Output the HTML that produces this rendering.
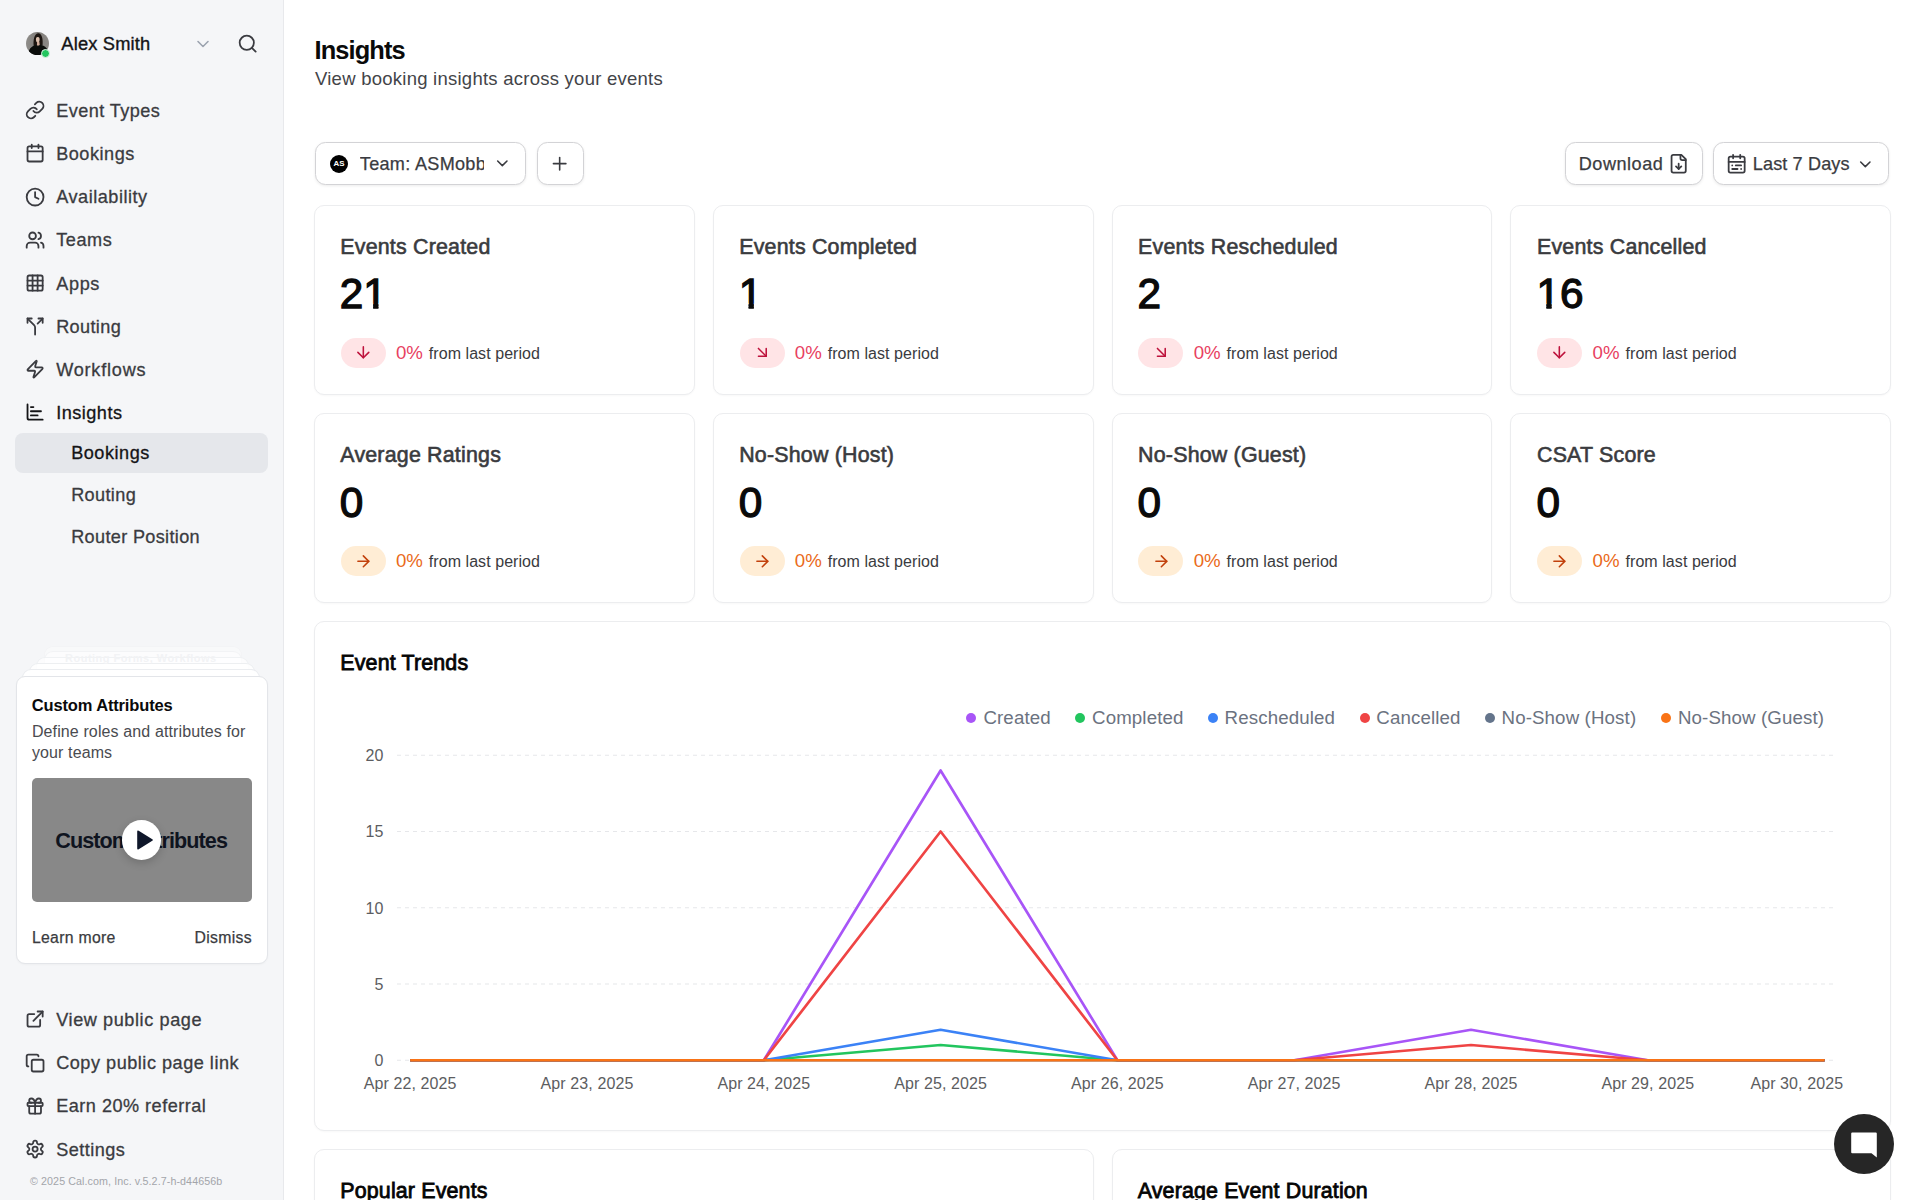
<!DOCTYPE html>
<html lang="en">
<head>
<meta charset="utf-8">
<title>Insights | Cal.com</title>
<style>
*{box-sizing:border-box;margin:0;padding:0}
html,body{width:1920px;height:1200px;overflow:hidden;background:#fff}
body{font-family:"Liberation Sans",sans-serif;color:#3a3b40;position:relative}
svg{display:block}
.abs{position:absolute;white-space:nowrap}
.ico{position:absolute;fill:none;stroke:#3a3b40;stroke-width:2;stroke-linecap:round;stroke-linejoin:round}
#side{position:absolute;left:0;top:0;width:284px;height:1200px;background:#f5f6f8;border-right:1px solid #e8e9ec}
.nav{position:absolute;font-size:18.1px;letter-spacing:.36px;color:#3a3b40;white-space:nowrap;-webkit-text-stroke:.3px #3a3b40}
.nav.on{color:#141416;-webkit-text-stroke:.3px #141416}
#selbg{position:absolute;left:15px;top:433px;width:253px;height:40px;border-radius:8px;background:#e5e7eb}
.card{position:absolute;background:#fff;border:1px solid #ecedef;border-radius:10px;box-shadow:0 1px 2px rgba(0,0,0,.03)}
.ct{position:absolute;font-size:21.4px;line-height:28px;color:#3a3b40;white-space:nowrap;-webkit-text-stroke:.6px #3a3b3e;letter-spacing:.2px}
.cv{position:absolute;font-size:42.3px;line-height:52px;font-weight:400;color:#0a0a0a;white-space:nowrap;-webkit-text-stroke:1.3px #0a0a0a}
.badge{position:absolute;width:45px;height:30.2px;border-radius:15.1px}
.badge svg{position:absolute;left:13.2px;top:5.6px;width:18.67px;height:18.67px;fill:none;stroke-width:2;stroke-linecap:round;stroke-linejoin:round}
.badge.red{background:#ffe4e6}.badge.red svg{stroke:#be123c}
.badge.org{background:#ffedd5}.badge.org svg{stroke:#c2410c}
.pct{position:absolute;font-size:18.67px;line-height:26px;white-space:nowrap}
.pct.red{color:#e8415f}.pct.org{color:#ea6a1a}
.flp{position:absolute;font-size:16px;line-height:26px;color:#3a3b40;white-space:nowrap;letter-spacing:.06px}
.btn{position:absolute;top:142.4px;height:42.6px;background:#fff;border:1.2px solid #d3d3d6;border-radius:10.5px;box-shadow:0 1px 3px rgba(0,0,0,.08)}
.btxt{font-size:18.1px;color:#3a3b40;letter-spacing:.3px;-webkit-text-stroke:.25px #3a3b40}
</style>
</head>
<body>
<!-- ============ SIDEBAR ============ -->
<div id="side">
<svg class="abs" style="left:26.3px;top:32.1px;width:23px;height:23px" viewBox="0 0 24 24">
<defs><clipPath id="avc"><circle cx="12" cy="12" r="12"/></clipPath>
<linearGradient id="avbg" x1="0" x2="1" y1="0" y2="0"><stop offset="0" stop-color="#8f8d8a"/><stop offset=".5" stop-color="#807d7a"/><stop offset="1" stop-color="#8c8986"/></linearGradient></defs>
<g clip-path="url(#avc)"><rect width="24" height="24" fill="url(#avbg)"/>
<path d="M8.100 14.600C7.300 9.500 8.600 1.500 12.600 1.300c3.900-.2 5.400 6.200 4.700 12.600z" fill="#1c1511"/>
<ellipse cx="12.300" cy="7.900" rx="1.900" ry="3.200" fill="#dcc0ae"/>
<path d="M11.600 10.200h2.300l.5 4h-3z" fill="#d2ad9b"/>
<path d="M10.300 5.800C10.800 3.500 14 3.500 14.500 6.100 13.400 4.900 11.300 4.800 10.300 5.800z" fill="#1c1511"/>
<path d="M2.200 24C2.600 18.200 5.200 14.800 10.600 13.600l1.900 1.200 2.300-1.400c4.200.6 6.800 2.800 8.200 6.200L24 24z" fill="#0b0d0b"/></g></svg>
<div class="abs" style="left:41.3px;top:49.4px;width:9px;height:9px;border-radius:50%;background:#22c55e;border:1px solid #dff5e7"></div>
<div class="abs" style="left:61.3px;top:31.8px;line-height:24px;font-size:18.3px;color:#141416;letter-spacing:.18px;-webkit-text-stroke:.35px #141416">Alex Smith</div>
<svg class="ico" viewBox="0 0 24 24" style="left:193.2px;top:33.8px;width:20px;height:20px;stroke:#9ca3af;stroke-width:1.9;"><path d="m6 9 6 6 6-6"/></svg>
<svg class="ico" viewBox="0 0 24 24" style="left:236.64px;top:32.94px;width:21.33px;height:21.33px;stroke:#3a3b40;stroke-width:2;"><circle cx="11" cy="11" r="8"/><path d="m21 21-4.3-4.3"/></svg>
<svg class="ico" viewBox="0 0 24 24" style="left:25.3px;top:100.3px;width:20.2px;height:20.2px;stroke-width:2.15;"><path d="M10 13a5 5 0 0 0 7.54.54l3-3a5 5 0 0 0-7.07-7.07l-1.72 1.71"/><path d="M14 11a5 5 0 0 0-7.54-.54l-3 3a5 5 0 0 0 7.07 7.07l1.71-1.71"/></svg>
<div class="nav" style="left:56.2px;top:98.9px;line-height:24px;letter-spacing:0.43px;">Event Types</div>
<svg class="ico" viewBox="0 0 24 24" style="left:25.3px;top:143.45px;width:20.2px;height:20.2px;stroke-width:2.15;"><path d="M8 2v4"/><path d="M16 2v4"/><rect width="18" height="18" x="3" y="4" rx="2"/><path d="M3 10h18"/></svg>
<div class="nav" style="left:56.2px;top:142.05px;line-height:24px;letter-spacing:0.52px;">Bookings</div>
<svg class="ico" viewBox="0 0 24 24" style="left:25.3px;top:186.6px;width:20.2px;height:20.2px;stroke-width:2.15;"><circle cx="12" cy="12" r="10"/><polyline points="12 6 12 12 16 14"/></svg>
<div class="nav" style="left:56.2px;top:185.2px;line-height:24px;letter-spacing:0.53px;">Availability</div>
<svg class="ico" viewBox="0 0 24 24" style="left:25.3px;top:229.75px;width:20.2px;height:20.2px;stroke-width:2.15;"><path d="M16 21v-2a4 4 0 0 0-4-4H6a4 4 0 0 0-4 4v2"/><circle cx="9" cy="7" r="4"/><path d="M22 21v-2a4 4 0 0 0-3-3.87"/><path d="M16 3.13a4 4 0 0 1 0 7.75"/></svg>
<div class="nav" style="left:56.2px;top:228.35px;line-height:24px;letter-spacing:0.56px;">Teams</div>
<svg class="ico" viewBox="0 0 24 24" style="left:25.3px;top:272.9px;width:20.2px;height:20.2px;stroke-width:2.15;"><rect width="18" height="18" x="3" y="3" rx="2"/><path d="M3 9h18"/><path d="M3 15h18"/><path d="M9 3v18"/><path d="M15 3v18"/></svg>
<div class="nav" style="left:56.2px;top:271.5px;line-height:24px;letter-spacing:0.66px;">Apps</div>
<svg class="ico" viewBox="0 0 24 24" style="left:25.3px;top:316.05px;width:20.2px;height:20.2px;stroke-width:2.15;"><path d="M16 3h5v5"/><path d="M8 3H3v5"/><path d="M12 22v-8.3a4 4 0 0 0-1.172-2.872L3 3"/><path d="m15 9 6-6"/></svg>
<div class="nav" style="left:56.2px;top:314.65px;line-height:24px;letter-spacing:0.36px;">Routing</div>
<svg class="ico" viewBox="0 0 24 24" style="left:25.3px;top:359.2px;width:20.2px;height:20.2px;stroke-width:2.15;"><path d="M4 14a1 1 0 0 1-.78-1.63l9.9-10.2a.5.5 0 0 1 .86.46l-1.92 6.02A1 1 0 0 0 13 10h7a1 1 0 0 1 .78 1.63l-9.9 10.2a.5.5 0 0 1-.86-.46l1.92-6.02A1 1 0 0 0 11 14z"/></svg>
<div class="nav" style="left:56.2px;top:357.8px;line-height:24px;letter-spacing:0.78px;">Workflows</div>
<svg class="ico" viewBox="0 0 24 24" style="left:25.3px;top:402.35px;width:20.2px;height:20.2px;stroke:#141416;stroke-width:2.15;"><path d="M3 3v16a2 2 0 0 0 2 2h16"/><path d="M7 16h8"/><path d="M7 11h12"/><path d="M7 6h3"/></svg>
<div class="nav on" style="left:56.2px;top:400.95px;line-height:24px;letter-spacing:0.49px;">Insights</div>
<div id="selbg"></div>
<div class="nav sub on" style="left:71.2px;top:441.3px;line-height:24px;letter-spacing:0.52px;">Bookings</div>
<div class="nav sub" style="left:71.2px;top:483.2px;line-height:24px;letter-spacing:0.36px;">Routing</div>
<div class="nav sub" style="left:71.2px;top:525.2px;line-height:24px;letter-spacing:0.34px;">Router Position</div>
<svg class="ico" viewBox="0 0 24 24" style="left:25.3px;top:1009.4px;width:20.2px;height:20.2px;stroke-width:2.15;"><path d="M15 3h6v6"/><path d="M10 14 21 3"/><path d="M18 13v6a2 2 0 0 1-2 2H5a2 2 0 0 1-2-2V8a2 2 0 0 1 2-2h6"/></svg>
<div class="nav" style="left:56.2px;top:1008px;line-height:24px;letter-spacing:0.59px;">View public page</div>
<svg class="ico" viewBox="0 0 24 24" style="left:25.3px;top:1052.6px;width:20.2px;height:20.2px;stroke-width:2.15;"><rect width="14" height="14" x="8" y="8" rx="2" ry="2"/><path d="M4 16c-1.1 0-2-.9-2-2V4c0-1.1.9-2 2-2h10c1.1 0 2 .9 2 2"/></svg>
<div class="nav" style="left:56.2px;top:1051.2px;line-height:24px;letter-spacing:0.52px;">Copy public page link</div>
<svg class="ico" viewBox="0 0 24 24" style="left:25.3px;top:1095.7px;width:20.2px;height:20.2px;stroke-width:2.15;"><rect x="3" y="8" width="18" height="4" rx="1"/><path d="M12 8v13"/><path d="M19 12v7a2 2 0 0 1-2 2H7a2 2 0 0 1-2-2v-7"/><path d="M7.5 8a2.5 2.5 0 0 1 0-5A4.8 8 0 0 1 12 8a4.8 8 0 0 1 4.5-5 2.5 2.5 0 0 1 0 5"/></svg>
<div class="nav" style="left:56.2px;top:1094.3px;line-height:24px;letter-spacing:0.49px;">Earn 20% referral</div>
<svg class="ico" viewBox="0 0 24 24" style="left:25.3px;top:1138.9px;width:20.2px;height:20.2px;stroke-width:2.15;"><path d="M12.22 2h-.44a2 2 0 0 0-2 2v.18a2 2 0 0 1-1 1.73l-.43.25a2 2 0 0 1-2 0l-.15-.08a2 2 0 0 0-2.73.73l-.22.38a2 2 0 0 0 .73 2.73l.15.1a2 2 0 0 1 1 1.72v.51a2 2 0 0 1-1 1.74l-.15.09a2 2 0 0 0-.73 2.73l.22.38a2 2 0 0 0 2.73.73l.15-.08a2 2 0 0 1 2 0l.43.25a2 2 0 0 1 1 1.73V20a2 2 0 0 0 2 2h.44a2 2 0 0 0 2-2v-.18a2 2 0 0 1 1-1.73l.43-.25a2 2 0 0 1 2 0l.15.08a2 2 0 0 0 2.73-.73l.22-.39a2 2 0 0 0-.73-2.73l-.15-.08a2 2 0 0 1-1-1.74v-.5a2 2 0 0 1 1-1.74l.15-.09a2 2 0 0 0 .73-2.73l-.22-.38a2 2 0 0 0-2.73-.73l-.15.08a2 2 0 0 1-2 0l-.43-.25a2 2 0 0 1-1-1.73V4a2 2 0 0 0-2-2z"/><circle cx="12" cy="12" r="3"/></svg>
<div class="nav" style="left:56.2px;top:1137.5px;line-height:24px;letter-spacing:0.47px;">Settings</div>
<div class="abs" style="left:30px;top:1174.2px;line-height:14px;font-size:10.7px;color:#a3a5aa;letter-spacing:.09px">© 2025 Cal.com, Inc. v.5.2.7-h-d44656b</div>
<div class="abs" style="left:43.5px;top:645.8px;width:198.4px;height:40px;border-radius:9px;background:rgba(255,255,255,0.35);border:1px solid rgba(229,231,235,0.28)"></div>
<div class="abs" style="left:43.5px;top:651px;width:198.4px;height:40px;border-radius:9px;background:rgba(255,255,255,0.55);border:1px solid rgba(229,231,235,0.44)"></div>
<div class="abs" style="left:35.5px;top:657.2px;width:213.5px;height:40px;border-radius:9px;background:rgba(255,255,255,0.7);border:1px solid rgba(229,231,235,0.56)"></div>
<div class="abs" style="left:28.5px;top:663.3px;width:226.2px;height:40px;border-radius:9px;background:rgba(255,255,255,0.85);border:1px solid rgba(229,231,235,0.68)"></div>
<div class="abs" style="left:22.4px;top:669.3px;width:238.1px;height:40px;border-radius:9px;background:rgba(255,255,255,0.95);border:1px solid rgba(229,231,235,0.76)"></div>
<div class="abs" style="left:65px;top:651px;font-size:11px;line-height:14px;color:#f2f3f5;font-weight:700;letter-spacing:.5px">Routing Forms, Workflows</div>
<div class="abs" style="left:15.5px;top:675.5px;width:252px;height:288px;border-radius:9px;background:#fff;border:1px solid #e3e5e9;box-shadow:0 1px 2px rgba(0,0,0,.03)"></div>
<div class="abs" style="left:31.8px;top:694.1px;line-height:22px;font-size:16.5px;font-weight:700;color:#0a0a0a;letter-spacing:-.15px">Custom Attributes</div>
<div class="abs" style="left:31.9px;top:722.2px;line-height:20px;font-size:16px;color:#4a4b50;letter-spacing:.12px">Define roles and attributes for</div>
<div class="abs" style="left:31.9px;top:742.8px;line-height:20px;font-size:16px;color:#4a4b50;letter-spacing:.12px">your teams</div>
<div class="abs" style="left:32px;top:777.5px;width:219.500px;height:124px;border-radius:5px;background:#888"></div>
<div class="abs" style="left:55.3px;top:826.5px;line-height:28px;font-size:21.6px;font-weight:700;color:#0f141f;letter-spacing:-.93px">Custom Attributes</div>
<div class="abs" style="left:121.5px;top:820.2px;width:39.600px;height:39.600px;border-radius:50%;background:#fff;box-shadow:0 3px 8px rgba(0,0,0,.18)"></div>
<svg class="abs" style="left:134.500px;top:829px;width:20px;height:22px" viewBox="0 0 20 22"><path d="M2.2 2.600v16.800a1 1 0 0 0 1.500.86l13.600-8.400a1 1 0 0 0 0-1.720L3.700 1.740a1 1 0 0 0-1.500.86z" fill="#0f172a"/></svg>
<div class="abs" style="left:31.9px;top:927.8px;line-height:20px;font-size:15.8px;color:#3a3b40;letter-spacing:.3px;-webkit-text-stroke:.25px #3a3b40">Learn more</div>
<div class="abs" style="left:194.5px;top:927.8px;line-height:20px;font-size:15.8px;color:#3a3b40;letter-spacing:.3px;-webkit-text-stroke:.25px #3a3b40">Dismiss</div>
</div>
<!-- ============ MAIN ============ -->
<div id="main">
<div class="abs" style="left:314.6px;top:32.6px;line-height:34px;font-size:25.4px;font-weight:700;color:#0a0a0a;letter-spacing:-.9px">Insights</div>
<div class="abs" style="left:315px;top:65.8px;line-height:26px;font-size:18.5px;color:#434448;letter-spacing:.25px">View booking insights across your events</div>
<div class="btn" style="left:315px;width:210.500px"></div>
<div class="abs" style="left:330px;top:154.800px;width:18px;height:18px;border-radius:50%;background:#000;color:#fff;font-size:7.9px;font-weight:700;line-height:18px;text-align:center;letter-spacing:-.1px">AS</div>
<div class="abs btxt" style="left:359.8px;top:151.6px;line-height:24px;width:124.5px;overflow:hidden">Team: ASMobbin</div>
<svg class="ico" viewBox="0 0 24 24" style="left:493.27px;top:154.47px;width:18.67px;height:18.67px;stroke-width:2;"><path d="m6 9 6 6 6-6"/></svg>
<div class="btn" style="left:536.5px;width:47px"></div>
<svg class="ico" viewBox="0 0 24 24" style="left:549.34px;top:153.03px;width:21.33px;height:21.33px;stroke-width:1.8;"><path d="M5 12h14"/><path d="M12 5v14"/></svg>
<div class="btn" style="left:1565px;width:137.800px"></div>
<div class="abs btxt" style="left:1578.8px;top:151.6px;line-height:24px;letter-spacing:.5px">Download</div>
<svg class="ico" viewBox="0 0 24 24" style="left:1668.34px;top:152.94px;width:21.33px;height:21.33px;"><path d="M15 2H6a2 2 0 0 0-2 2v16a2 2 0 0 0 2 2h12a2 2 0 0 0 2-2V7Z"/><path d="M14 2v4a2 2 0 0 0 2 2h4"/><path d="M12 18v-6"/><path d="m9 15 3 3 3-3"/></svg>
<div class="btn" style="left:1713.2px;width:176.300px"></div>
<svg class="ico" viewBox="0 0 24 24" style="left:1726.34px;top:152.94px;width:21.33px;height:21.33px;"><rect width="18" height="18" x="3" y="4" rx="2"/><path d="M16 2v4"/><path d="M3 10h18"/><path d="M8 2v4"/><path d="M17 14h-6"/><path d="M13 18H7"/><path d="M7 14h.01"/><path d="M17 18h.01"/></svg>
<div class="abs btxt" style="left:1752.8px;top:151.6px;line-height:24px;letter-spacing:.12px">Last 7 Days</div>
<svg class="ico" viewBox="0 0 24 24" style="left:1856.26px;top:154.86px;width:18.67px;height:18.67px;stroke-width:2;"><path d="m6 9 6 6 6-6"/></svg>
<div class="card" style="left:314px;top:205px;width:381px;height:190px"></div>
<div class="ct" style="left:340.3px;top:232.7px">Events Created</div>
<div class="cv" style="left:339.8px;top:268.4px">2<span style="display:inline-block;clip-path:polygon(-5px -5px,40px -5px,40px 35.03px,15.14px 35.03px,15.14px 60px,9.82px 60px,9.82px 35.03px,-5px 35.03px)">1</span></div>
<div class="badge red" style="left:340.6px;top:337.9px"><svg viewBox="0 0 24 24"><path d="M12 5v14"/><path d="m19 12-7 7-7-7"/></svg></div>
<div class="pct red" style="left:395.9px;top:340px">0%</div>
<div class="flp" style="left:428.8px;top:341px">from last period</div>
<div class="card" style="left:713px;top:205px;width:381px;height:190px"></div>
<div class="ct" style="left:739.2px;top:232.7px">Events Completed</div>
<div class="cv" style="left:738.7px;top:268.4px"><span style="display:inline-block;clip-path:polygon(-5px -5px,40px -5px,40px 35.03px,15.14px 35.03px,15.14px 60px,9.82px 60px,9.82px 35.03px,-5px 35.03px)">1</span></div>
<div class="badge red" style="left:739.5px;top:337.9px"><svg viewBox="0 0 24 24"><path d="m7 7 10 10"/><path d="M17 7v10H7"/></svg></div>
<div class="pct red" style="left:794.8px;top:340px">0%</div>
<div class="flp" style="left:827.7px;top:341px">from last period</div>
<div class="card" style="left:1112px;top:205px;width:380px;height:190px"></div>
<div class="ct" style="left:1138.1px;top:232.7px">Events Rescheduled</div>
<div class="cv" style="left:1137.6px;top:268.4px">2</div>
<div class="badge red" style="left:1138.4px;top:337.9px"><svg viewBox="0 0 24 24"><path d="m7 7 10 10"/><path d="M17 7v10H7"/></svg></div>
<div class="pct red" style="left:1193.7px;top:340px">0%</div>
<div class="flp" style="left:1226.6px;top:341px">from last period</div>
<div class="card" style="left:1510px;top:205px;width:381px;height:190px"></div>
<div class="ct" style="left:1537px;top:232.7px">Events Cancelled</div>
<div class="cv" style="left:1536.5px;top:268.4px"><span style="display:inline-block;clip-path:polygon(-5px -5px,40px -5px,40px 35.03px,15.14px 35.03px,15.14px 60px,9.82px 60px,9.82px 35.03px,-5px 35.03px)">1</span>6</div>
<div class="badge red" style="left:1537.3px;top:337.9px"><svg viewBox="0 0 24 24"><path d="M12 5v14"/><path d="m19 12-7 7-7-7"/></svg></div>
<div class="pct red" style="left:1592.6px;top:340px">0%</div>
<div class="flp" style="left:1625.5px;top:341px">from last period</div>
<div class="card" style="left:314px;top:413px;width:381px;height:190px"></div>
<div class="ct" style="left:340.3px;top:441px">Average Ratings</div>
<div class="cv" style="left:339.8px;top:476.7px">0</div>
<div class="badge org" style="left:340.6px;top:546.2px"><svg viewBox="0 0 24 24"><path d="M5 12h14"/><path d="m12 5 7 7-7 7"/></svg></div>
<div class="pct org" style="left:395.9px;top:548.3px">0%</div>
<div class="flp" style="left:428.8px;top:549.3px">from last period</div>
<div class="card" style="left:713px;top:413px;width:381px;height:190px"></div>
<div class="ct" style="left:739.2px;top:441px">No-Show (Host)</div>
<div class="cv" style="left:738.7px;top:476.7px">0</div>
<div class="badge org" style="left:739.5px;top:546.2px"><svg viewBox="0 0 24 24"><path d="M5 12h14"/><path d="m12 5 7 7-7 7"/></svg></div>
<div class="pct org" style="left:794.8px;top:548.3px">0%</div>
<div class="flp" style="left:827.7px;top:549.3px">from last period</div>
<div class="card" style="left:1112px;top:413px;width:380px;height:190px"></div>
<div class="ct" style="left:1138.1px;top:441px">No-Show (Guest)</div>
<div class="cv" style="left:1137.6px;top:476.7px">0</div>
<div class="badge org" style="left:1138.4px;top:546.2px"><svg viewBox="0 0 24 24"><path d="M5 12h14"/><path d="m12 5 7 7-7 7"/></svg></div>
<div class="pct org" style="left:1193.7px;top:548.3px">0%</div>
<div class="flp" style="left:1226.6px;top:549.3px">from last period</div>
<div class="card" style="left:1510px;top:413px;width:381px;height:190px"></div>
<div class="ct" style="left:1537px;top:441px">CSAT Score</div>
<div class="cv" style="left:1536.5px;top:476.7px">0</div>
<div class="badge org" style="left:1537.3px;top:546.2px"><svg viewBox="0 0 24 24"><path d="M5 12h14"/><path d="m12 5 7 7-7 7"/></svg></div>
<div class="pct org" style="left:1592.6px;top:548.3px">0%</div>
<div class="flp" style="left:1625.5px;top:549.3px">from last period</div>
<div class="card" style="left:314px;top:621px;width:1577px;height:510px"></div>
<div class="abs" style="left:340.3px;top:648.6px;line-height:28px;font-size:21.4px;color:#050505;letter-spacing:.16px;-webkit-text-stroke:.8px #050505">Event Trends</div>
<div class="abs" style="left:966.2px;top:712.800px;width:10px;height:10px;border-radius:50%;background:#a855f7"></div>
<div class="abs" style="left:983.4px;top:705.8px;line-height:24px;font-size:18.7px;color:#6b7280;letter-spacing:.13px">Created</div>
<div class="abs" style="left:1074.8px;top:712.800px;width:10px;height:10px;border-radius:50%;background:#22c55e"></div>
<div class="abs" style="left:1092px;top:705.8px;line-height:24px;font-size:18.7px;color:#6b7280;letter-spacing:.13px">Completed</div>
<div class="abs" style="left:1207.8px;top:712.800px;width:10px;height:10px;border-radius:50%;background:#3b82f6"></div>
<div class="abs" style="left:1224.6px;top:705.8px;line-height:24px;font-size:18.7px;color:#6b7280;letter-spacing:.13px">Rescheduled</div>
<div class="abs" style="left:1359.5px;top:712.800px;width:10px;height:10px;border-radius:50%;background:#ef4444"></div>
<div class="abs" style="left:1376.3px;top:705.8px;line-height:24px;font-size:18.7px;color:#6b7280;letter-spacing:.13px">Cancelled</div>
<div class="abs" style="left:1484.7px;top:712.800px;width:10px;height:10px;border-radius:50%;background:#64748b"></div>
<div class="abs" style="left:1501.5px;top:705.8px;line-height:24px;font-size:18.7px;color:#6b7280;letter-spacing:.13px">No-Show (Host)</div>
<div class="abs" style="left:1660.7px;top:712.800px;width:10px;height:10px;border-radius:50%;background:#f97316"></div>
<div class="abs" style="left:1677.9px;top:705.8px;line-height:24px;font-size:18.7px;color:#6b7280;letter-spacing:.13px">No-Show (Guest)</div>
<svg class="abs" style="left:0;top:0;width:1920px;height:1200px;pointer-events:none" viewBox="0 0 1920 1200">
<line x1="397" x2="1834" y1="755.25" y2="755.25" stroke="#e6e7ea" stroke-width="1.1" stroke-dasharray="4 4"/>
<line x1="397" x2="1834" y1="831.5" y2="831.5" stroke="#e6e7ea" stroke-width="1.1" stroke-dasharray="4 4"/>
<line x1="397" x2="1834" y1="907.75" y2="907.75" stroke="#e6e7ea" stroke-width="1.1" stroke-dasharray="4 4"/>
<line x1="397" x2="1834" y1="984" y2="984" stroke="#e6e7ea" stroke-width="1.1" stroke-dasharray="4 4"/>
<line x1="397" x2="1834" y1="1060.25" y2="1060.25" stroke="#e6e7ea" stroke-width="1.1" stroke-dasharray="4 4"/>
<polyline points="410.2,1060.25 587,1060.25 763.8,1060.25 940.6,770.5 1117.4,1060.25 1294.2,1060.25 1471,1029.75 1647.8,1060.25 1824.6,1060.25" fill="none" stroke="#a855f7" stroke-width="2.67" stroke-linejoin="round" stroke-linecap="butt"/>
<polyline points="410.2,1060.25 587,1060.25 763.8,1060.25 940.6,1045 1117.4,1060.25 1294.2,1060.25 1471,1060.25 1647.8,1060.25 1824.6,1060.25" fill="none" stroke="#22c55e" stroke-width="2.67" stroke-linejoin="round" stroke-linecap="butt"/>
<polyline points="410.2,1060.25 587,1060.25 763.8,1060.25 940.6,1029.75 1117.4,1060.25 1294.2,1060.25 1471,1060.25 1647.8,1060.25 1824.6,1060.25" fill="none" stroke="#3b82f6" stroke-width="2.67" stroke-linejoin="round" stroke-linecap="butt"/>
<polyline points="410.2,1060.25 587,1060.25 763.8,1060.25 940.6,831.5 1117.4,1060.25 1294.2,1060.25 1471,1045 1647.8,1060.25 1824.6,1060.25" fill="none" stroke="#ef4444" stroke-width="2.67" stroke-linejoin="round" stroke-linecap="butt"/>
<polyline points="410.2,1060.25 587,1060.25 763.8,1060.25 940.6,1060.25 1117.4,1060.25 1294.2,1060.25 1471,1060.25 1647.8,1060.25 1824.6,1060.25" fill="none" stroke="#64748b" stroke-width="2.67" stroke-linejoin="round" stroke-linecap="butt"/>
<polyline points="410.2,1060.25 587,1060.25 763.8,1060.25 940.6,1060.25 1117.4,1060.25 1294.2,1060.25 1471,1060.25 1647.8,1060.25 1824.6,1060.25" fill="none" stroke="#f97316" stroke-width="2.67" stroke-linejoin="round" stroke-linecap="butt"/>
<g font-family="Liberation Sans, sans-serif" font-size="16" fill="#5c5d61">
<text x="383.3" y="761.05" text-anchor="end">20</text>
<text x="383.3" y="837.3" text-anchor="end">15</text>
<text x="383.3" y="913.55" text-anchor="end">10</text>
<text x="383.3" y="989.8" text-anchor="end">5</text>
<text x="383.3" y="1066.05" text-anchor="end">0</text>
<text x="410.2" y="1088.8" text-anchor="middle" letter-spacing=".1">Apr 22, 2025</text>
<text x="587" y="1088.8" text-anchor="middle" letter-spacing=".1">Apr 23, 2025</text>
<text x="763.8" y="1088.8" text-anchor="middle" letter-spacing=".1">Apr 24, 2025</text>
<text x="940.6" y="1088.8" text-anchor="middle" letter-spacing=".1">Apr 25, 2025</text>
<text x="1117.4" y="1088.8" text-anchor="middle" letter-spacing=".1">Apr 26, 2025</text>
<text x="1294.2" y="1088.8" text-anchor="middle" letter-spacing=".1">Apr 27, 2025</text>
<text x="1471" y="1088.8" text-anchor="middle" letter-spacing=".1">Apr 28, 2025</text>
<text x="1647.8" y="1088.8" text-anchor="middle" letter-spacing=".1">Apr 29, 2025</text>
<text x="1796.8" y="1088.8" text-anchor="middle" letter-spacing=".1">Apr 30, 2025</text>
</g></svg>
<div class="card" style="left:314px;top:1149px;width:780px;height:120px"></div>
<div class="card" style="left:1112px;top:1149px;width:779px;height:120px"></div>
<div class="abs" style="left:340.3px;top:1176.6px;line-height:28px;font-size:21.4px;color:#050505;letter-spacing:.16px;-webkit-text-stroke:.8px #050505">Popular Events</div>
<div class="abs" style="left:1137.7px;top:1176.6px;line-height:28px;font-size:21.4px;color:#050505;letter-spacing:.16px;-webkit-text-stroke:.8px #050505">Average Event Duration</div>
<div class="abs" style="left:1833.7px;top:1113.6px;width:60.700px;height:60.700px;border-radius:50%;background:#262626"></div>
<svg class="abs" style="left:1850px;top:1131px;width:28px;height:28px" viewBox="0 0 28 28"><path d="M2.2 1.400h23.600a1 1 0 0 1 1 1v24l-5.300-4.200H2.200a1 1 0 0 1-1-1V2.400a1 1 0 0 1 1-1z" fill="#fff"/></svg>
</div>
</body>
</html>
